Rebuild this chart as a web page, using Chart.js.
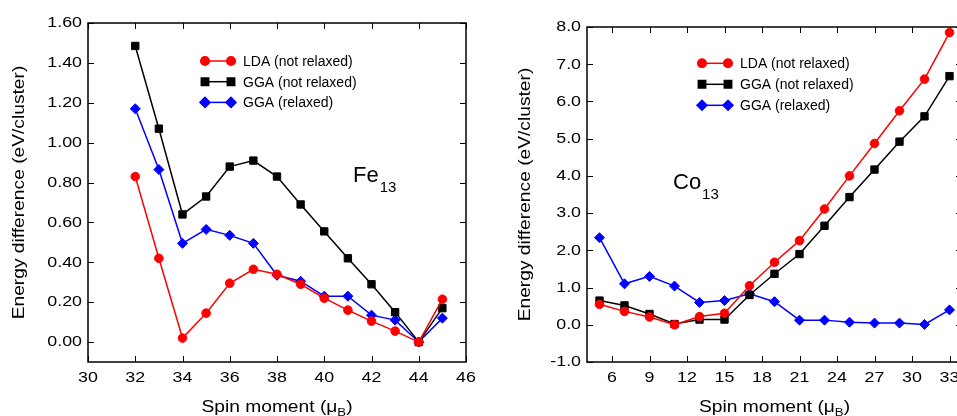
<!DOCTYPE html>
<html>
<head>
<meta charset="utf-8">
<script src="https://cdn.jsdelivr.net/npm/chart.js@4.4.1/dist/chart.umd.min.js"></script>
<style>
  html, body { margin: 0; padding: 0; background: #fff; overflow: hidden; }
  #wrap { position: relative; width: 957px; height: 416px; overflow: hidden; }
  canvas { position: absolute; top: 0; }
  #fe { left: 0; }
  #co { left: 480px; }
</style>
</head>
<body>
<div id="wrap">
  <canvas id="fe" width="480" height="416"></canvas>
  <canvas id="co" width="490" height="416"></canvas>
</div>
<script>
// series names
const seriesNames = ['LDA (not relaxed)', 'GGA (not relaxed)', 'GGA (relaxed)'];

// Fe13
const feSpin = [32, 33, 34, 35, 36, 37, 38, 39, 40, 41, 42, 43, 44, 45];
const feLDA = [0.83, 0.42, 0.02, 0.145, 0.295, 0.365, 0.34, 0.29, 0.22, 0.16, 0.105, 0.055, 0.0, 0.215];
const feGGA = [1.485, 1.07, 0.64, 0.73, 0.88, 0.91, 0.83, 0.69, 0.555, 0.42, 0.29, 0.15, 0.0, 0.17];
const feGGArel = [1.17, 0.865, 0.495, 0.565, 0.535, 0.495, 0.335, 0.305, 0.23, 0.23, 0.135, 0.11, 0.0, 0.12];
const feXTicks = [30, 32, 34, 36, 38, 40, 42, 44, 46];
const feYTicks = [0, 0.2, 0.4, 0.6, 0.8, 1.0, 1.2, 1.4, 1.6];

// Co13
const coSpin = [5, 7, 9, 11, 13, 15, 17, 19, 21, 23, 25, 27, 29, 31, 33];
const coLDA = [0.55, 0.36, 0.21, 0.0, 0.22, 0.31, 1.05, 1.68, 2.26, 3.11, 4.0, 4.87, 5.75, 6.6, 7.85];
const coGGA = [0.65, 0.52, 0.29, 0.02, 0.14, 0.14, 0.8, 1.37, 1.9, 2.66, 3.43, 4.17, 4.92, 5.6, 6.68];
const coGGArel = [2.34, 1.1, 1.3, 1.04, 0.6, 0.65, 0.83, 0.62, 0.125, 0.125, 0.07, 0.045, 0.045, 0.01, 0.4];
const coXTicks = [6, 9, 12, 15, 18, 21, 24, 27, 30, 33];
const coYTicks = [-1, 0, 1, 2, 3, 4, 5, 6, 7, 8];

const FONT = 'Liberation Sans';
const styles = [
  { color: '#ff0000', pointStyle: 'circle', radius: 4.3 },
  { color: '#000000', pointStyle: 'rect', radius: 5.2 },
  { color: '#0000ff', pointStyle: 'rectRot', radius: 5 }
];

function toPoints(xs, ys) {
  return xs.map(function (x, i) { return { x: x, y: ys[i] }; });
}

// axis text in the original is a bit wider than Liberation Sans, stretch it
function wideText(ctx, text, x, y, size, align, baseline, sx, rot) {
  ctx.save();
  ctx.font = size + 'px ' + FONT;
  ctx.translate(x, y);
  if (rot) ctx.rotate(rot);
  ctx.scale(sx, 1);
  ctx.textAlign = align;
  ctx.textBaseline = baseline;
  ctx.fillText(text, 0, 0);
  ctx.restore();
}

// frame + inward ticks, tick labels, titles, legend
const decoPlugin = {
  id: 'deco',
  beforeDatasetsDraw: function (chart, args, o) {
    const ctx = chart.ctx;
    const a = chart.chartArea;
    const xs = chart.scales.x, ys = chart.scales.y;
    ctx.save();
    ctx.strokeStyle = '#000';
    ctx.lineWidth = 1.5;
    ctx.strokeRect(a.left, a.top, a.right - a.left, a.bottom - a.top);
    ctx.lineWidth = 1;
    ctx.beginPath();
    o.xTicks.forEach(function (v) {
      const px = Math.round(xs.getPixelForValue(v)) + 0.5;
      ctx.moveTo(px, a.bottom); ctx.lineTo(px, a.bottom - 6);
      ctx.moveTo(px, a.top); ctx.lineTo(px, a.top + 6);
    });
    o.yTicks.forEach(function (v) {
      const py = Math.round(ys.getPixelForValue(v)) + 0.5;
      ctx.moveTo(a.left, py); ctx.lineTo(a.left + 6, py);
      ctx.moveTo(a.right, py); ctx.lineTo(a.right - 6, py);
    });
    ctx.stroke();

    // tick labels
    ctx.fillStyle = '#000';
    o.xTicks.forEach(function (v) {
      wideText(ctx, String(v), xs.getPixelForValue(v), a.bottom + 16, 15.5, 'center', 'middle', 1.15);
    });
    o.yTicks.forEach(function (v) {
      wideText(ctx, v.toFixed(o.decimals), a.left - 6, ys.getPixelForValue(v), 15.5, 'right', 'middle', 1.15);
    });

    // y title
    wideText(ctx, 'Energy difference (eV/cluster)', o.yTitleX, (a.top + a.bottom) / 2, 16, 'center', 'middle', 1.2, -Math.PI / 2);

    // x title with subscript
    const sx = 1.2;
    ctx.font = '16px ' + FONT;
    const t1 = 'Spin moment (\u03bc', t3 = ')';
    const w1 = ctx.measureText(t1).width * sx, w3 = ctx.measureText(t3).width * sx;
    ctx.font = '11px ' + FONT;
    const w2 = ctx.measureText('B').width * sx;
    const x0 = (a.left + a.right) / 2 - (w1 + w2 + w3) / 2;
    wideText(ctx, t1, x0, 412, 16, 'left', 'alphabetic', sx);
    wideText(ctx, 'B', x0 + w1, 416, 11, 'left', 'alphabetic', sx);
    wideText(ctx, t3, x0 + w1 + w2, 412, 16, 'left', 'alphabetic', sx);
    ctx.restore();
  },
  afterDraw: function (chart, args, o) {
    const ctx = chart.ctx;
    ctx.save();
    // legend: line with a marker at each end
    ctx.font = '14px ' + FONT;
    ctx.textBaseline = 'middle';
    chart.data.datasets.forEach(function (ds, i) {
      const y = o.legend.y + i * o.legend.gap;
      ctx.strokeStyle = ds.borderColor;
      ctx.lineWidth = 1.5;
      ctx.beginPath();
      ctx.moveTo(o.legend.x1, y); ctx.lineTo(o.legend.x2, y);
      ctx.stroke();
      ctx.fillStyle = ds.backgroundColor;
      [o.legend.x1, o.legend.x2].forEach(function (x) {
        Chart.helpers.drawPoint(ctx, { pointStyle: ds.pointStyle, radius: ds.pointRadius, rotation: 0, borderWidth: 1 }, x, y);
      });
      ctx.fillStyle = '#000';
      ctx.fillText(ds.label, o.legend.tx, y + 1);
    });
    // cluster label with subscript
    ctx.textBaseline = 'alphabetic';
    ctx.fillStyle = '#000';
    ctx.font = '22px ' + FONT;
    ctx.fillText(o.name, o.nameX, o.nameY);
    const w = ctx.measureText(o.name).width;
    ctx.font = '15px ' + FONT;
    ctx.fillText('13', o.nameX + w + 1, o.nameY + 10);
    ctx.restore();
  }
};

function makeChart(id, spin, series, xMin, xMax, yMin, yMax, layout, deco) {
  const ctx = document.getElementById(id).getContext('2d');
  return new Chart(ctx, {
    type: 'line',
    data: {
      datasets: series.map(function (vals, i) {
        return {
          label: seriesNames[i],
          data: toPoints(spin, vals),
          borderColor: styles[i].color,
          backgroundColor: styles[i].color,
          pointStyle: styles[i].pointStyle,
          pointRadius: styles[i].radius,
          pointBorderWidth: 1,
          borderWidth: 1.5,
          tension: 0
        };
      })
    },
    options: {
      responsive: false,
      animation: false,
      layout: { padding: layout.padding },
      plugins: { legend: { display: false }, tooltip: { enabled: false }, deco: deco },
      scales: {
        x: {
          type: 'linear', min: xMin, max: xMax,
          grid: { display: false, drawTicks: false },
          border: { display: false },
          ticks: { display: false },
          afterFit: function (s) { s.height = layout.xHeight; }
        },
        y: {
          type: 'linear', min: yMin, max: yMax,
          grid: { display: false, drawTicks: false },
          border: { display: false },
          ticks: { display: false },
          afterFit: function (s) { s.width = layout.yWidth; }
        }
      }
    },
    plugins: [decoPlugin]
  });
}

makeChart('fe', feSpin, [feLDA, feGGA, feGGArel], 30, 46, -0.1, 1.6,
  { padding: { left: 0, top: 23, right: 14, bottom: 0 }, xHeight: 54, yWidth: 88 },
  { xTicks: feXTicks, yTicks: feYTicks, decimals: 2, yTitleX: 20, name: 'Fe', nameX: 353, nameY: 182,
    legend: { x1: 205, x2: 231, tx: 243, y: 61, gap: 20.7 } });

makeChart('co', coSpin, [coLDA, coGGA, coGGArel], 4, 34, -1, 8,
  { padding: { left: 0, top: 27, right: 8, bottom: 0 }, xHeight: 54, yWidth: 107 },
  { xTicks: coXTicks, yTicks: coYTicks, decimals: 1, yTitleX: 46, name: 'Co', nameX: 193, nameY: 189,
    legend: { x1: 222, x2: 248, tx: 260, y: 63.3, gap: 21 } });
</script>
</body>
</html>
